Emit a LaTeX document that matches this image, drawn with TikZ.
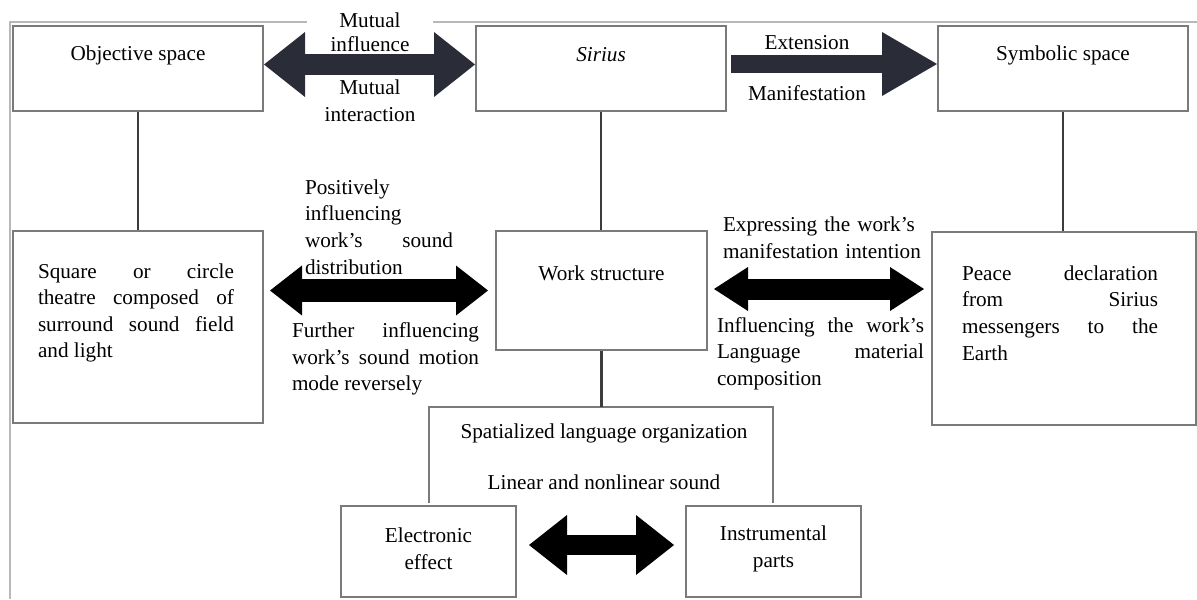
\documentclass[tikz,border=0pt]{standalone}
\usepackage{fontspec}
\setmainfont{Liberation Serif}
\usetikzlibrary{arrows.meta,positioning}
\definecolor{boxline}{HTML}{7A7A7A}
\definecolor{stem}{HTML}{3C3C3C}
\definecolor{slate}{HTML}{2A2C38}
\definecolor{frameline}{HTML}{B8B8B8}

\begin{document}
\begin{tikzpicture}[x=0.5pt,y=-0.5pt,
  every node/.style={font=\fontsize{10.6pt}{13.3pt}\selectfont, inner sep=0pt},
  box/.style 2 args={draw=boxline, line width=1pt, minimum width=#1, minimum height=#2},
  para/.style={text width=#1, align=justify},
  stemline/.style={draw=stem, line width=1.1pt},
  dbl/.style args={#1/#2/#3}{line width=#1, {Triangle[length=#2,width=#3,line width=0pt]}-{Triangle[length=#2,width=#3,line width=0pt]}},
  one/.style args={#1/#2/#3}{line width=#1, -{Triangle[length=#2,width=#3,line width=0pt]}}]
\useasboundingbox (0,0) rectangle (1197,599);
\draw[frameline, line width=1pt] (307,22) -- (10,22) -- (10,599);
\draw[frameline, line width=1pt] (433,22) -- (1197,22);

\node[box={125pt}{42.5pt}] (obj) at (138,68.5) {};
\node[box={125pt}{42.5pt}] (sirius) at (601,68.5) {};
\node[box={125pt}{42.5pt}] (sym) at (1063,68.5) {};
\node (objtxt) at (138,55) {Objective space};
\node (siriustxt) at (601,55) {\textit{Sirius}};
\node (symtxt) at (1063,55) {Symbolic space};

\node[box={125pt}{96pt}] (square) at (138,327) {};
\node[box={105.5pt}{59.5pt}] (work) at (601.5,290.5) {};
\node[box={132pt}{96.5pt}] (peace) at (1064,328.5) {};
\node (worktxt) at (601.5,273) {Work structure};
\node[para=98pt] (squaretxt) at (136,313) {Square or circle\linebreak theatre composed of\linebreak surround sound field\linebreak and light};
\node[para=98pt] (peacetxt) at (1060,313) {Peace declaration\linebreak from Sirius\linebreak messengers to the\linebreak Earth};

\node[minimum width=172pt, minimum height=48pt] (spat) at (601,455) {};
\draw[boxline, line width=1pt] (spat.south west) |- (spat.north east) -- (spat.south east);
\node (spattop) at (604,433) {Spatialized language organization};
\node (spatbot) at (604,482) {Linear and nonlinear sound};

\node[box={87.5pt}{45.5pt}] (elec) at (428.5,551.5) {};
\node[box={87.5pt}{45.5pt}] (instr) at (773.5,551.5) {};
\node[align=center] (electxt) at (428.5,549) {Electronic\\effect};
\node[align=center] (instrtxt) at (773.5,549) {Instrumental\\parts};

\draw[stemline] (obj.south) -- (square.north);
\draw[stemline] (sirius.south) -- (sirius.south |- work.north);
\draw[stemline] (sym.south) -- (sym.south |- peace.north);
\draw[stemline] (work.south) -- (work.south |- spat.north);

\draw[slate, dbl=10.5pt/20.5pt/32.5pt] ([yshift=2pt]obj.east) -- ([yshift=2pt]sirius.west);
\draw[slate, one=9pt/27.5pt/32pt, shorten <=2pt] ([yshift=2.25pt]sirius.east) -- ([yshift=2.25pt]sym.west);
\draw[black, dbl=11.5pt/16pt/25pt, shorten <=3pt, shorten >=3.5pt] (square.east |- work.west) -- (work.west);
\draw[black, dbl=10.5pt/17pt/22pt, shorten <=3pt, shorten >=3.5pt] ([yshift=0.75pt]work.east) -- ([yshift=0.75pt]work.east -| peace.west);
\draw[black, dbl=10pt/19pt/30pt, shorten <=6pt, shorten >=5.5pt] ([yshift=3.25pt]elec.east) -- ([yshift=3.25pt]instr.west);

\node[align=center, font=\fontsize{10.6pt}{12pt}\selectfont] (mutinf) at (370,32) {Mutual\\influence};
\node[align=center] (mutint) at (370,101) {Mutual\\interaction};
\node (ext) at (807,43) {Extension};
\node (man) at (807,93) {Manifestation};

\node[para=74pt] (postxt) at (379,227) {Positively\linebreak influencing\linebreak work's sound\linebreak distribution};
\node[para=93.5pt] (furtxt) at (385.5,359) {Further influencing\linebreak work's sound motion\linebreak mode reversely};
\node[text width=104pt, align=left] (exptxt) at (827,237.5) {Expressing the work's\\manifestation intention};
\node[para=103.5pt] (inftxt) at (820.5,353.5) {Influencing the work's\linebreak Language material\linebreak composition};
\end{tikzpicture}
\end{document}
